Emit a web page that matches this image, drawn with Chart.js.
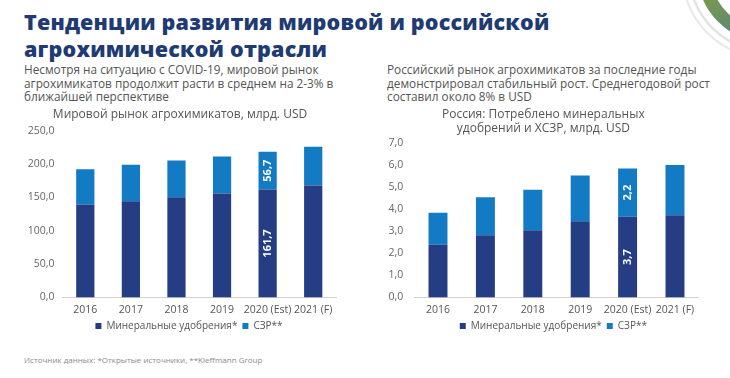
<!DOCTYPE html>
<html><head><meta charset="utf-8">
<script src="https://cdn.jsdelivr.net/npm/chart.js@4/dist/chart.umd.min.js"></script>
<style>
html,body{margin:0;padding:0;background:#fff;width:730px;height:378px;overflow:hidden;font-family:"Open Sans",sans-serif;}
#title{position:absolute;left:24px;top:8px;font-size:21.5px;font-weight:800;line-height:27px;color:#203b73;letter-spacing:0.2px;}
.sub{position:absolute;top:63px;font-size:11.8px;line-height:13.7px;color:#555;}
#src{position:absolute;left:24px;top:354px;font-size:8px;color:#8a8a8a;}
#c1{position:absolute;left:24px;top:104px;}
#c2{position:absolute;left:388px;top:104px;}
#deco{position:absolute;left:0;top:0;}
</style></head>
<body>
<svg id="deco" width="730" height="378">
<defs><linearGradient id="g" x1="0" y1="0" x2="1" y2="1"><stop offset="0" stop-color="#a7b21a"/><stop offset="1" stop-color="#2a6db0"/></linearGradient></defs>
<circle cx="768" cy="-28" r="64" fill="none" stroke="url(#g)" stroke-width="13"/>
<circle cx="768" cy="-28" r="86" fill="none" stroke="#e8e8e8" stroke-width="2"/>
<circle cx="768" cy="-28" r="79" fill="none" stroke="#e4e4e4" stroke-width="2.5"/>
</svg>
<div id="title">Тенденции развития мировой и российской<br>агрохимической отрасли</div>
<div class="sub" style="left:24px">Несмотря на ситуацию с COVID-19, мировой рынок<br>агрохимикатов продолжит расти в среднем на 2-3% в<br>ближайшей перспективе</div>
<div class="sub" style="left:387px">Российский рынок агрохимикатов за последние годы<br>демонстрировал стабильный рост. Среднегодовой рост<br>составил около 8% в USD</div>
<canvas id="c1" width="330" height="243"></canvas>
<canvas id="c2" width="340" height="243"></canvas>
<div id="src">Источник данных: *Открытые источники, **Kleffmann Group</div>
<script>
const years = ["2016","2017","2018","2019","2020 (Est)","2021 (F)"];
const seriesNames = ["Минеральные удобрения*","СЗР**"];
const worldFert = [139.2, 144.1, 150.2, 155.7, 161.7, 167.7];
const worldSzr  = [53.1, 54.7, 55.2, 55.7, 56.7, 58.2];
const ruFert = [2.39, 2.82, 3.05, 3.46, 3.66, 3.73];
const ruSzr  = [1.45, 1.73, 1.84, 2.08, 2.2, 2.28];
const worldTicks = [0,50,100,150,200,250];
const ruTicks = [0,1,2,3,4,5,6,7];
const labeledIndex = [4];
const titleWorld = "Мировой рынок агрохимикатов, млрд. USD";
const titleRu = ["Россия: Потреблено минеральных","удобрений и ХСЗР, млрд. USD"];

const DARK = "#253d83", LIGHT = "#127bc4";
const FONT = "'Open Sans', sans-serif";
const fmt = v => v.toFixed(1).replace(".", ",");

const valueLabels = {
  id: "valueLabels",
  afterDatasetsDraw(chart) {
    const ctx = chart.ctx;
    chart.data.datasets.forEach((ds, di) => {
      const meta = chart.getDatasetMeta(di);
      labeledIndex.forEach(i => {
        const el = meta.data[i];
        const cy = (el.y + el.base) / 2;
        ctx.save();
        ctx.translate(el.x, cy);
        ctx.rotate(-Math.PI / 2);
        ctx.fillStyle = "#fff";
        ctx.font = "bold 11px " + FONT;
        ctx.textAlign = "center";
        ctx.textBaseline = "middle";
        ctx.fillText(fmt(ds.data[i]), 0, 0);
        ctx.restore();
      });
    });
  }
};
const legendShift = {
  id: "legendShift",
  afterLayout(chart, args, opts) {
    const lg = chart.legend;
    if (lg) {
      lg.left += opts.dx; lg.right += opts.dx;
      lg.top += opts.dy; lg.bottom += opts.dy;
      if (lg.adjustHitBoxes) lg.adjustHitBoxes();
    }
  }
};

function makeChart(id, fert, szr, ticks, title, yWidth, yPad, padR, titleBottom, dx) {
  const max = ticks[ticks.length - 1];
  const step = ticks[1] - ticks[0];
  return new Chart(document.getElementById(id), {
    type: "bar",
    data: {
      labels: years,
      datasets: [
        {label: seriesNames[0], data: fert, backgroundColor: DARK, barPercentage: 0.4, categoryPercentage: 1},
        {label: seriesNames[1], data: szr, backgroundColor: LIGHT, barPercentage: 0.4, categoryPercentage: 1}
      ]
    },
    options: {
      responsive: false, animation: false,
      layout: {padding: {left: 0, right: padR, top: 0, bottom: 0}},
      plugins: {
        title: {display: true, text: title, color: "#555", font: {family: FONT, size: 12, weight: "normal", lineHeight: 1.2}, padding: {top: 3, bottom: titleBottom}},
        legend: {position: "bottom", labels: {color: "#555", font: {family: FONT, size: 10}, usePointStyle: true, pointStyle: "rect", boxWidth: 6, boxHeight: 6, padding: 5}},
        legendShift: {dx: dx, dy: -6},
        tooltip: {enabled: false}
      },
      scales: {
        x: {stacked: true, grid: {display: false, drawTicks: false}, border: {color: "#d0d0d0"},
            ticks: {color: "#555", font: {family: FONT, size: 10.5}, padding: 6, maxRotation: 0, autoSkip: false}},
        y: {stacked: true, min: 0, max: max, grid: {display: false, drawTicks: false}, border: {display: false},
            ticks: {stepSize: step, color: "#666", font: {family: FONT, size: 10.5}, padding: yPad, callback: v => fmt(v)},
            afterFit(s) { s.width = yWidth; }}
      }
    },
    plugins: [valueLabels, legendShift]
  });
}
makeChart("c1", worldFert, worldSzr, worldTicks, titleWorld, 38.5, 8, 18, 9.3, 9);
makeChart("c2", ruFert, ruSzr, ruTicks, titleRu, 26.3, 11, 29.3, 7.5, 10);
</script>
</body></html>
